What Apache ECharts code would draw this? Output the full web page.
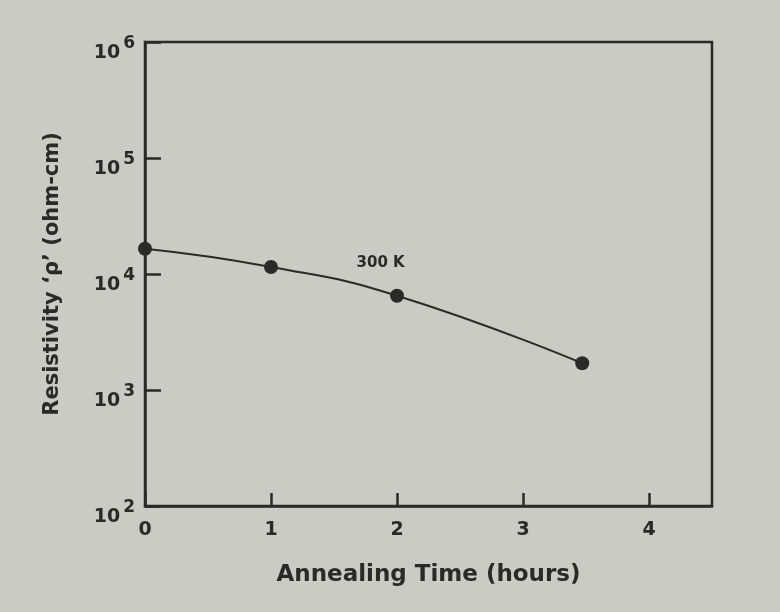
<!DOCTYPE html>
<html><head><meta charset="utf-8">
<script src="https://cdn.jsdelivr.net/npm/echarts@6/dist/echarts.min.js"></script>
<style>html,body{margin:0;padding:0;background:#cbcbc3;}#c{width:780px;height:612px;}</style>
</head><body><div id="c"></div>
<script>
const annealHours = [0, 1, 2, 3.47];
const resistivity = [16500, 11500, 6500, 1700];
const xTicks = [0, 1, 2, 3, 4];
const curveLabel = '300 K';
const labelPos = [1.87, 12500];

const ink = '#2a2a28';
const font = 'DejaVu Sans';
const chart = echarts.init(document.getElementById('c'), null, {renderer: 'canvas'});
chart.setOption({
  backgroundColor: '#cbcbc3',
  animation: false,
  grid: {left: 145, right: 68, top: 42, bottom: 106, show: true, borderColor: ink, borderWidth: 2.5},
  xAxis: {
    type: 'value', min: 0, max: 4.5,
    axisLine: {show: true, lineStyle: {color: ink, width: 2.5}},
    axisTick: {show: true, inside: true, length: 13, lineStyle: {color: ink, width: 2.5}, customValues: xTicks},
    axisLabel: {color: ink, fontFamily: font, fontWeight: 'bold', fontSize: 19, margin: 15, customValues: xTicks},
    splitLine: {show: false},
    name: 'Annealing Time (hours)', nameLocation: 'middle', nameGap: 58,
    nameTextStyle: {color: ink, fontFamily: font, fontWeight: 'bold', fontSize: 23}
  },
  yAxis: {
    type: 'log', logBase: 10, min: 100, max: 1000000,
    axisLine: {show: true, lineStyle: {color: ink, width: 2.5}},
    axisTick: {show: true, inside: true, length: 16, lineStyle: {color: ink, width: 2.5}},
    splitLine: {show: false},
    axisLabel: {
      margin: 10, color: ink,
      formatter: v => '{b|10}{s|' + Math.round(Math.log10(v)) + '}',
      rich: {
        b: {fontFamily: font, fontWeight: 'bold', fontSize: 19, color: ink, padding: [22, 0, 0, 0]},
        s: {fontFamily: font, fontWeight: 'bold', fontSize: 17, color: ink, verticalAlign: 'top', padding: [14, 0, 0, 3]}
      }
    },
    name: 'Resistivity \u2018\u03c1\u2019 (ohm-cm)', nameLocation: 'middle', nameGap: 82, nameRotate: 90,
    nameTextStyle: {color: ink, fontFamily: font, fontWeight: 'bold', fontSize: 21}
  },
  series: [{
    type: 'line',
    data: annealHours.map((x, i) => [x, resistivity[i]]),
    smooth: 0.5,
    symbol: 'circle', symbolSize: 14,
    lineStyle: {color: ink, width: 2},
    itemStyle: {color: ink},
    markPoint: {
      symbol: 'circle', symbolSize: 1, itemStyle: {color: 'transparent'},
      label: {show: true, formatter: curveLabel, color: ink, fontFamily: font, fontWeight: 'bold', fontSize: 15, position: 'inside'},
      data: [{coord: labelPos}]
    }
  }]
});
</script></body></html>
